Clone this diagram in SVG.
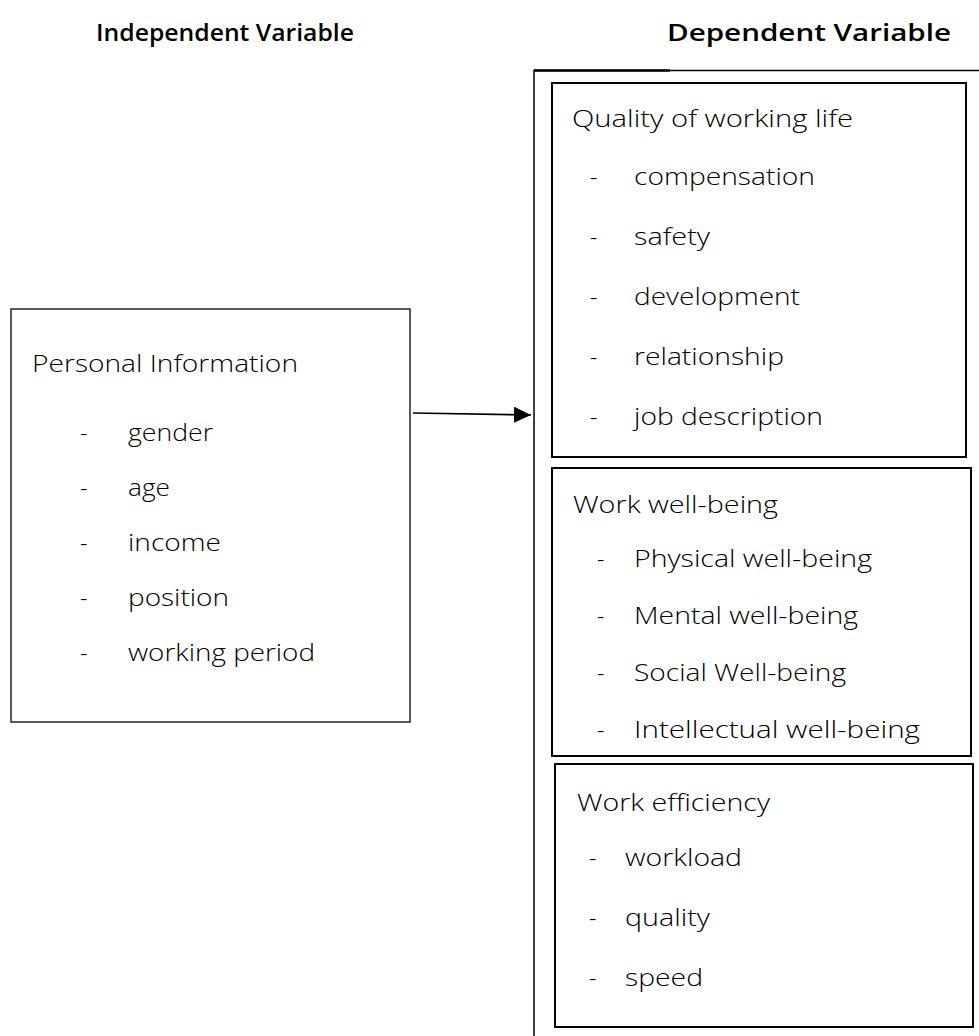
<svg xmlns="http://www.w3.org/2000/svg" width="979" height="1036" viewBox="0 0 979 1036">
<defs>
<style>
.hdr{font-family:"Open Sans","Noto Sans",sans-serif;font-weight:600;font-size:23px;fill:#000}
.t{font-family:"Open Sans","Noto Sans",sans-serif;font-weight:300;font-size:23px;fill:#000}
.box{fill:none;stroke:#000;stroke-width:2}
.lbox{fill:none;stroke:#222;stroke-width:1.5}
.conn{fill:none;stroke:#000;stroke-width:1.7}
</style>
<marker id="arr" viewBox="0 0 17 16" refX="17" refY="8" markerWidth="17" markerHeight="16" markerUnits="userSpaceOnUse" orient="auto">
<path d="M0,0 L17,8 L0,16 z" fill="#000"/>
</marker>
</defs>
<rect width="979" height="1036" fill="#fff"/>
<g id="headers">
<text class="hdr" x="96" y="41" textLength="258" lengthAdjust="spacingAndGlyphs">Independent Variable</text>
<text class="hdr" x="667" y="41" textLength="284" lengthAdjust="spacingAndGlyphs">Dependent Variable</text>
</g>
<g id="dependent-frame">
<rect x="534" y="70.5" width="460" height="1000" fill="none" stroke="#000" stroke-width="1.5"/>
<line x1="534" y1="70.5" x2="670" y2="70.5" stroke="#000" stroke-width="2.5"/>
</g>
<g id="personal-information">
<rect class="lbox" x="11" y="309" width="399" height="413"/>
<text class="t" x="32" y="372" textLength="266" lengthAdjust="spacingAndGlyphs">Personal Information</text>
<text class="t" x="80" y="441">-</text><text class="t" x="128" y="441" textLength="85" lengthAdjust="spacingAndGlyphs">gender</text>
<text class="t" x="80" y="496">-</text><text class="t" x="128" y="496" textLength="42" lengthAdjust="spacingAndGlyphs">age</text>
<text class="t" x="80" y="551">-</text><text class="t" x="128" y="551" textLength="93" lengthAdjust="spacingAndGlyphs">income</text>
<text class="t" x="80" y="606">-</text><text class="t" x="128" y="606" textLength="101" lengthAdjust="spacingAndGlyphs">position</text>
<text class="t" x="80" y="661">-</text><text class="t" x="128" y="661" textLength="187" lengthAdjust="spacingAndGlyphs">working period</text>
</g>
<g id="quality-of-working-life">
<rect class="box" x="552" y="83" width="414" height="374"/>
<text class="t" x="572" y="127" textLength="281" lengthAdjust="spacingAndGlyphs">Quality of working life</text>
<text class="t" x="590" y="185">-</text><text class="t" x="634" y="185" textLength="181" lengthAdjust="spacingAndGlyphs">compensation</text>
<text class="t" x="590" y="245">-</text><text class="t" x="634" y="245" textLength="76" lengthAdjust="spacingAndGlyphs">safety</text>
<text class="t" x="590" y="305">-</text><text class="t" x="634" y="305" textLength="166" lengthAdjust="spacingAndGlyphs">development</text>
<text class="t" x="590" y="365">-</text><text class="t" x="634" y="365" textLength="150" lengthAdjust="spacingAndGlyphs">relationship</text>
<text class="t" x="590" y="425">-</text><text class="t" x="634" y="425" textLength="189" lengthAdjust="spacingAndGlyphs">job description</text>
</g>
<g id="work-well-being">
<rect class="box" x="552" y="468" width="419" height="288"/>
<text class="t" x="573" y="513" textLength="205" lengthAdjust="spacingAndGlyphs">Work well-being</text>
<text class="t" x="597" y="567">-</text><text class="t" x="634" y="567" textLength="238" lengthAdjust="spacingAndGlyphs">Physical well-being</text>
<text class="t" x="597" y="624">-</text><text class="t" x="634" y="624" textLength="224" lengthAdjust="spacingAndGlyphs">Mental well-being</text>
<text class="t" x="597" y="681">-</text><text class="t" x="634" y="681" textLength="212" lengthAdjust="spacingAndGlyphs">Social Well-being</text>
<text class="t" x="597" y="738">-</text><text class="t" x="634" y="738" textLength="286" lengthAdjust="spacingAndGlyphs">Intellectual well-being</text>
</g>
<g id="work-efficiency">
<rect class="box" x="555" y="764" width="418" height="263"/>
<text class="t" x="577" y="811" textLength="193" lengthAdjust="spacingAndGlyphs">Work efficiency</text>
<text class="t" x="589" y="866">-</text><text class="t" x="625" y="866" textLength="117" lengthAdjust="spacingAndGlyphs">workload</text>
<text class="t" x="589" y="926">-</text><text class="t" x="625" y="926" textLength="85" lengthAdjust="spacingAndGlyphs">quality</text>
<text class="t" x="589" y="986">-</text><text class="t" x="625" y="986" textLength="78" lengthAdjust="spacingAndGlyphs">speed</text>
</g>
<g id="connectors">
<line class="conn" x1="413" y1="413" x2="531" y2="415" marker-end="url(#arr)"/>
</g>
</svg>
